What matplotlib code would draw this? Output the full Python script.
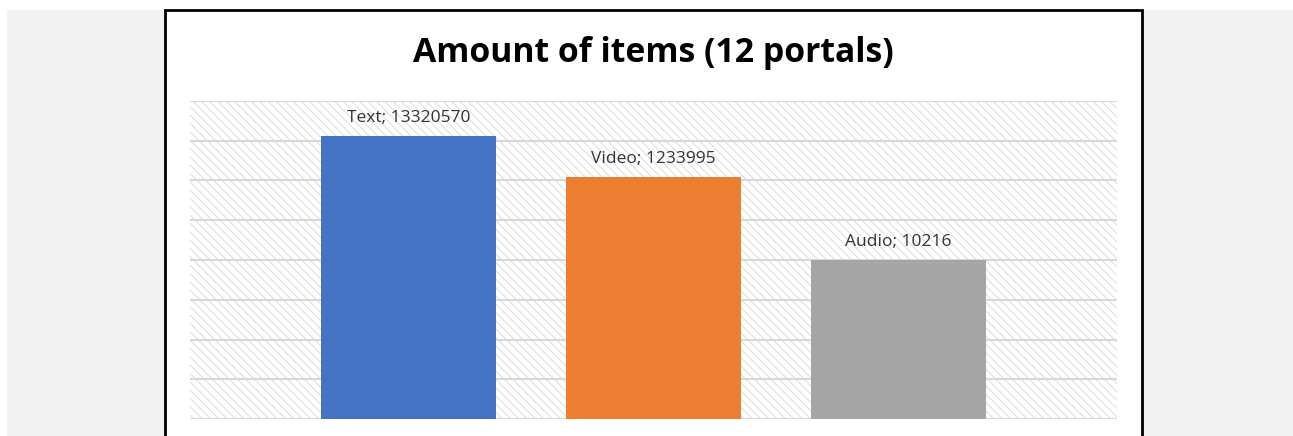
import matplotlib.pyplot as plt
from matplotlib.patches import Rectangle
import numpy as np

# Daten
categories = ['Text', 'Video', 'Audio']
values = [13320570, 1233995, 10216]
colors = ['#4472c4', '#ed7d31', '#a5a5a5']

W, H = 1293, 436
fig = plt.figure(figsize=(W / 100, H / 100), dpi=100)
fig.patch.set_facecolor('white')

# grauer Hintergrund und weisses Panel mit schwarzem Rahmen
fig.add_artist(Rectangle((7 / W, 0), (W - 7) / W + 0.01, (H - 10) / H, transform=fig.transFigure,
                         facecolor='#f2f2f2', edgecolor='none', zorder=0))
fig.add_artist(Rectangle((165 / W, -0.05), 977 / W, (H - 10) / H + 0.05, transform=fig.transFigure,
                         facecolor='white', edgecolor='black', lw=2, zorder=1))

ax = fig.add_axes([190 / W, (H - 419) / H, 927 / W, 318 / H], zorder=2)
ax.set_facecolor('none')

# schraffierter Plotbereich
plt.rcParams['hatch.linewidth'] = 0.7
ax.add_patch(Rectangle((0, 0), 1, 1, transform=ax.transAxes, facecolor='white',
                       edgecolor='#dcdcdc', hatch='\\\\\\\\', lw=0, zorder=0))

x = np.arange(len(categories))
ax.bar(x, values, width=175 / 245, color=colors, zorder=3)
ax.set_yscale('log')
ax.set_ylim(1, 1e8)
ax.set_xlim(-0.892, 2.892)
ax.set_yticks([10 ** k for k in range(9)])
ax.yaxis.set_minor_locator(plt.NullLocator())
ax.grid(axis='y', color='#d9d9d9', lw=1.5, zorder=1)
ax.set_axisbelow(True)
ax.tick_params(left=False, bottom=False, labelleft=False, labelbottom=False)
for s in ax.spines.values():
    s.set_visible(False)

for xi, c, v in zip(x, categories, values):
    ax.annotate(f'{c}; {v}', (xi, v), xytext=(0, 7), textcoords='offset points',
                ha='center', va='bottom', fontsize=12.5, color='#333333', family='Open Sans', zorder=4)

fig.text(653.5 / W, 1 - 53 / H, 'Amount of items (12 portals)', ha='center', va='center',
         fontsize=24.3, fontweight='bold', family='Open Sans', zorder=5)

plt.savefig('out.png', dpi=100)
